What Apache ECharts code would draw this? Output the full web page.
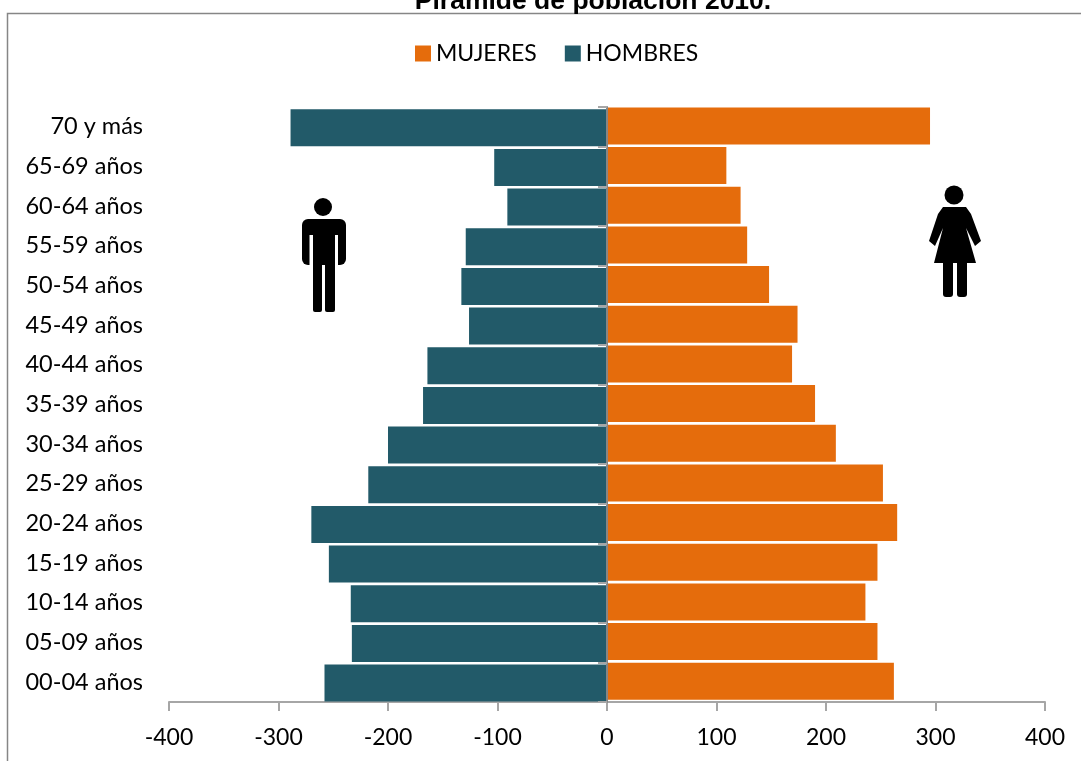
<!DOCTYPE html>
<html>
<head>
<meta charset="utf-8">
<script src="https://cdn.jsdelivr.net/npm/echarts@6/dist/echarts.min.js"></script>
<style>
  html, body { margin: 0; padding: 0; background: #fff; }
  #chart { width: 1081px; height: 761px; }
</style>
</head>
<body>
<div id="chart"></div>
<script>
var categories = ["00-04 años", "05-09 años", "10-14 años", "15-19 años", "20-24 años", "25-29 años", "30-34 años", "35-39 años", "40-44 años", "45-49 años", "50-54 años", "55-59 años", "60-64 años", "65-69 años", "70 y más"];
var mujeres = [262, 247, 236, 247, 265, 252, 209, 190, 169, 174, 148, 128, 122, 109, 295];
var hombres = [-258, -233, -234, -254, -270, -218, -200, -168, -164, -126, -133, -129, -91, -103, -289];
var labelFont = "Lato";

var chart = echarts.init(document.getElementById("chart"));
chart.setOption({
  animation: false,
  title: {
    text: "Pirámide de población 2010.",
    left: 588,
    top: -17,
    textAlign: "center",
    textStyle: { fontFamily: "Liberation Sans", fontSize: 26.5, fontWeight: "bold", color: "#000" }
  },
  legend: {
    data: ["MUJERES", "HOMBRES"],
    left: 410,
    top: 37,
    icon: "rect",
    itemWidth: 16,
    itemHeight: 16,
    itemGap: 28,
    textStyle: { fontFamily: labelFont, fontSize: 23, color: "#000" }
  },
  grid: { left: 169, right: 36, top: 107, bottom: 59 },
  xAxis: {
    type: "value",
    min: -400,
    max: 400,
    interval: 100,
    splitLine: { show: false },
    axisLine: { show: true, onZero: false, lineStyle: { color: "#a6a6a6", width: 2 } },
    axisTick: { show: true, length: 9, lineStyle: { color: "#a6a6a6", width: 2 } },
    axisLabel: { fontFamily: labelFont, fontSize: 23, color: "#000", margin: 24 }
  },
  yAxis: [
    {
      type: "category",
      data: categories,
      axisLine: { show: false, onZero: false },
      axisTick: { show: false },
      axisLabel: { fontFamily: labelFont, fontSize: 23.5, color: "#000", margin: 26, interval: 0 }
    },
    {
      // linea vertical en cero con sus marcas
      type: "category",
      data: categories,
      position: "left",
      z: 5,
      axisLine: { show: true, onZero: true, lineStyle: { color: "#868686", width: 2 } },
      axisTick: { show: true, length: 9, interval: 0, lineStyle: { color: "#a6a6a6", width: 2 } },
      axisLabel: { show: false }
    }
  ],
  series: [
    { name: "MUJERES", type: "bar", data: mujeres, barWidth: 37, barGap: "-95%", itemStyle: { color: "#e56c0c" } },
    { name: "HOMBRES", type: "bar", data: hombres, barWidth: 37, barGap: "-95%", itemStyle: { color: "#225a69" } }
  ],
  graphic: [
    // marco exterior
    { type: "rect", silent: true, z: -1, shape: { x: 7.5, y: 13.5, width: 1200, height: 900 }, style: { fill: "none", stroke: "#868686", lineWidth: 1.5 } },
    // hombre
    { type: "group", silent: true, children: [
      { type: "circle", shape: { cx: 323, cy: 207, r: 9 }, style: { fill: "#000" } },
      { type: "rect", shape: { x: 302, y: 219, width: 44, height: 46, r: 6 }, style: { fill: "#000" } },
      { type: "rect", shape: { x: 309.5, y: 235, width: 3.5, height: 31 }, style: { fill: "#fff" } },
      { type: "rect", shape: { x: 335, y: 235, width: 3, height: 31 }, style: { fill: "#fff" } },
      { type: "rect", shape: { x: 313, y: 255, width: 9, height: 57, r: 2 }, style: { fill: "#000" } },
      { type: "rect", shape: { x: 325, y: 255, width: 10, height: 57, r: 2 }, style: { fill: "#000" } },
      { type: "rect", shape: { x: 320, y: 255, width: 7, height: 8 }, style: { fill: "#000" } }
    ] },
    // mujer
    { type: "group", silent: true, children: [
      { type: "circle", shape: { cx: 954, cy: 195, r: 9.5 }, style: { fill: "#000" } },
      { type: "polygon", shape: { points: [[943, 207], [966, 207], [971, 214], [981, 241], [975, 246], [966, 228], [976, 263], [934, 263], [943, 228], [935, 246], [929, 241], [938, 214]] }, style: { fill: "#000" } },
      { type: "rect", shape: { x: 943, y: 260, width: 10, height: 37, r: 3 }, style: { fill: "#000" } },
      { type: "rect", shape: { x: 957, y: 260, width: 10, height: 37, r: 3 }, style: { fill: "#000" } }
    ] }
  ]
});
</script>
</body>
</html>
